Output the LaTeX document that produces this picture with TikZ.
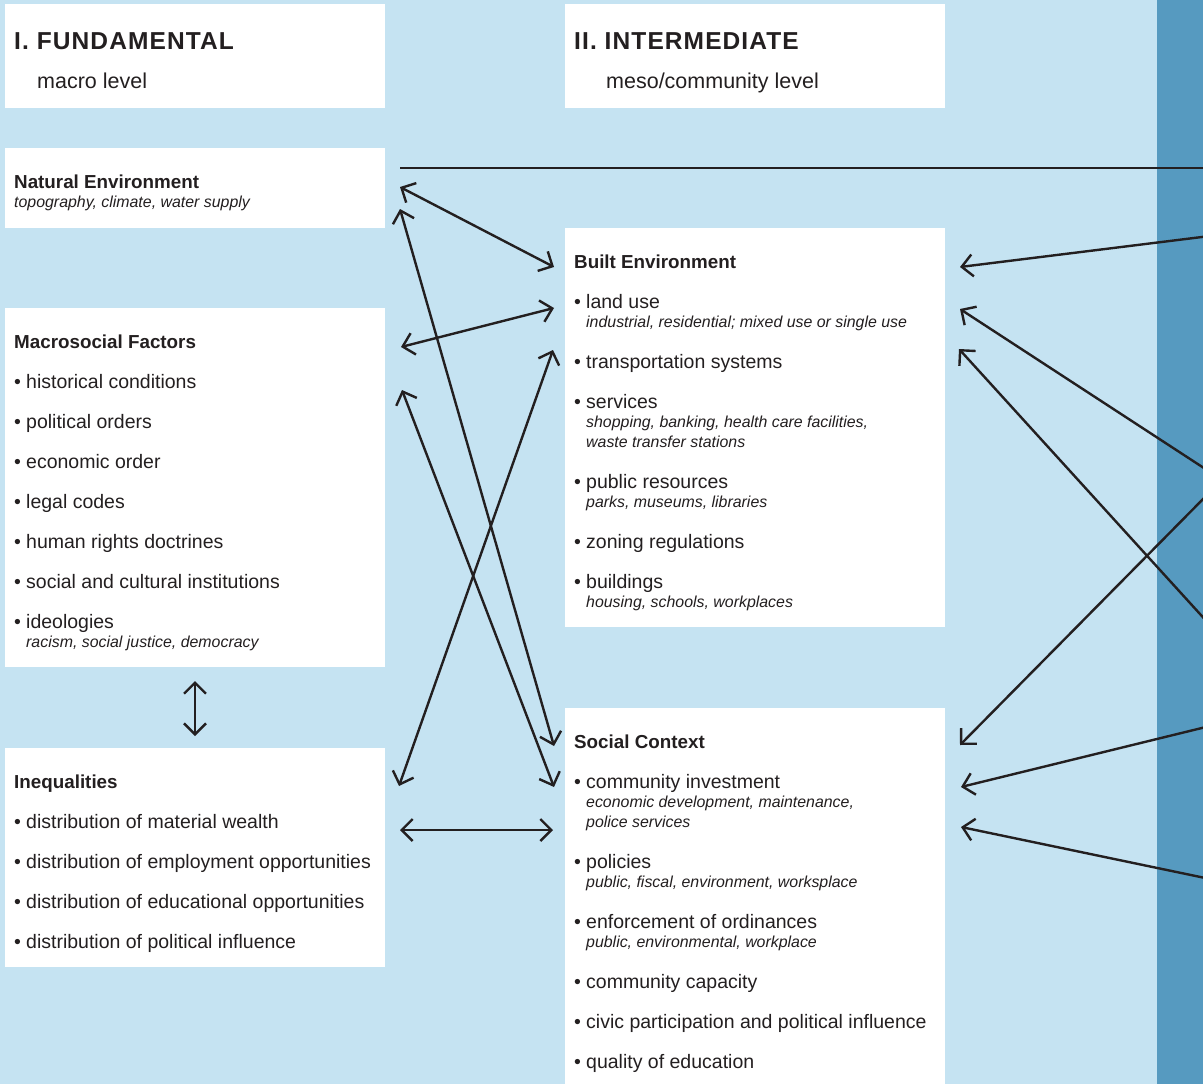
\documentclass[tikz,border=0pt]{standalone}
\usepackage{fontspec}
\setmainfont{Liberation Sans}
\newfontfamily\headfont[LetterSpace=4.5]{Liberation Sans}
\usetikzlibrary{arrows.meta}
\definecolor{paleblue}{HTML}{C5E3F2}
\definecolor{deepblue}{HTML}{569AC0}
\definecolor{ink}{HTML}{231F20}
\newcommand{\bitem}[1]{\makebox[12pt][l]{\textbullet}#1}

\begin{document}
\begin{tikzpicture}[x=1pt,y=-1pt,>={Straight Barb[length=11pt,width=22pt]},
  box/.style={fill=white,inner sep=0,anchor=north west,minimum width=380pt},
  txt/.style={anchor=base west,inner sep=0,text=ink,font=\fontsize{19.5}{23}\selectfont},
  ttl/.style={txt,font=\fontsize{18.8}{22}\selectfont\bfseries},
  sub/.style={txt,font=\fontsize{15.9}{18}\selectfont\itshape},
  link/.style={draw=ink,line width=2.4pt}]
\useasboundingbox (0,0) rectangle (1203,1084);
\fill[paleblue] (0,0) rectangle (1203,1084);
\fill[deepblue] (1157,0) rectangle (1203,1084);

% boxes
\node[box,minimum height=104pt] (fund) at (5,4) {};
\node[box,minimum height=104pt] (inter) at (565,4) {};
\node[box,minimum height=80pt] (natural) at (5,148) {};
\node[box,minimum height=359pt] (macro) at (5,308) {};
\node[box,minimum height=219pt] (ineq) at (5,748) {};
\node[box,minimum height=399pt] (built) at (565,228) {};
\node[box,minimum height=380pt] (social) at (565,708) {};

% headings
\node[txt,font=\fontsize{24.5}{28}\headfont\bfseries] (fundttl) at (14,49) {I. FUNDAMENTAL};
\node[txt,font=\fontsize{21.5}{24}\selectfont] (fundsub) at (37,88) {macro level};
\node[txt,font=\fontsize{24.5}{28}\headfont\bfseries] (interttl) at (574,49) {II. INTERMEDIATE};
\node[txt,font=\fontsize{21.5}{24}\selectfont] (intersub) at (606,88) {meso/community level};

% natural environment
\node[ttl] (natttl) at (14,188) {Natural Environment};
\node[sub] (natsub) at (14,207) {topography, climate, water supply};

% macrosocial factors
\node[ttl] (macttl) at (14,348) {Macrosocial Factors};
\foreach \t [count=\i] in {historical conditions,political orders,economic order,legal codes,
  human rights doctrines,social and cultural institutions,ideologies}
  \node[txt] (mac\i) at (14,{348+40*\i}) {\bitem{\t}};
\node[sub] (mac7sub) at (26,647) {racism, social justice, democracy};

% inequalities
\node[ttl] (ineqttl) at (14,788) {Inequalities};
\foreach \t [count=\i] in {distribution of material wealth,distribution of employment opportunities,
  distribution of educational opportunities,distribution of political influence}
  \node[txt] (ineq\i) at (14,{788+40*\i}) {\bitem{\t}};

% built environment
\node[ttl] (builtttl) at (574,268) {Built Environment};
\node[txt] (built1) at (574,308) {\bitem{land use}};
\node[sub] (built1sub) at (586,327) {industrial, residential; mixed use or single use};
\node[txt] (built2) at (574,368) {\bitem{transportation systems}};
\node[txt] (built3) at (574,408) {\bitem{services}};
\node[sub] (built3sub) at (586,427) {shopping, banking, health care facilities,};
\node[sub] (built3subb) at (586,447) {waste transfer stations};
\node[txt] (built4) at (574,488) {\bitem{public resources}};
\node[sub] (built4sub) at (586,507) {parks, museums, libraries};
\node[txt] (built5) at (574,548) {\bitem{zoning regulations}};
\node[txt] (built6) at (574,588) {\bitem{buildings}};
\node[sub] (built6sub) at (586,607) {housing, schools, workplaces};

% social context
\node[ttl] (socttl) at (574,748) {Social Context};
\node[txt] (soc1) at (574,788) {\bitem{community investment}};
\node[sub] (soc1sub) at (586,807) {economic development, maintenance,};
\node[sub] (soc1subb) at (586,827) {police services};
\node[txt] (soc2) at (574,868) {\bitem{policies}};
\node[sub] (soc2sub) at (586,887) {public, fiscal, environment, worksplace};
\node[txt] (soc3) at (574,928) {\bitem{enforcement of ordinances}};
\node[sub] (soc3sub) at (586,947) {public, environmental, workplace};
\node[txt] (soc4) at (574,988) {\bitem{community capacity}};
\node[txt] (soc5) at (574,1028) {\bitem{civic participation and political influence}};
\node[txt] (soc6) at (574,1068) {\bitem{quality of education}};

% connector ends
\coordinate (natA) at (400,187);
\coordinate (natB) at (400,209);
\coordinate (natC) at (400,168);
\coordinate (macA) at (401,347);
\coordinate (macB) at (402,390);
\coordinate (macC) at (195,681);
\coordinate (ineqA) at (399,786);
\coordinate (ineqB) at (400,830);
\coordinate (ineqC) at (195,736);
\coordinate (builtA) at (554,267);
\coordinate (builtB) at (554,308);
\coordinate (builtC) at (553,350);
\coordinate (builtD) at (960,267);
\coordinate (builtE) at (960,309);
\coordinate (builtF) at (959,349);
\coordinate (socA) at (554,746);
\coordinate (socB) at (554,787);
\coordinate (socC) at (553,830);
\coordinate (socD) at (960,745);
\coordinate (socE) at (961,787);
\coordinate (socF) at (961,827);
\coordinate (edgeA) at (1210,168);
\coordinate (edgeB) at (1210,236);
\coordinate (edgeC) at (1210,472);
\coordinate (edgeD) at (1210,625);
\coordinate (edgeE) at (1210,492);
\coordinate (edgeF) at (1210,726);
\coordinate (edgeG) at (1210,879);

% connectors
\draw[link] (natC) -- (edgeA);
\draw[link,<->] (natA) -- (builtA);
\draw[link,<->] (natB) -- (socA);
\draw[link,<->] (macA) -- (builtB);
\draw[link,<->] (macB) -- (socB);
\draw[link,<->] (macC) -- (ineqC);
\draw[link,<->] (ineqA) -- (builtC);
\draw[link,<->] (ineqB) -- (socC);
\draw[link,->] (edgeB) -- (builtD);
\draw[link,->] (edgeC) -- (builtE);
\draw[link,->] (edgeD) -- (builtF);
\draw[link,->] (edgeE) -- (socD);
\draw[link,->] (edgeF) -- (socE);
\draw[link,->] (edgeG) -- (socF);
\end{tikzpicture}
\end{document}
